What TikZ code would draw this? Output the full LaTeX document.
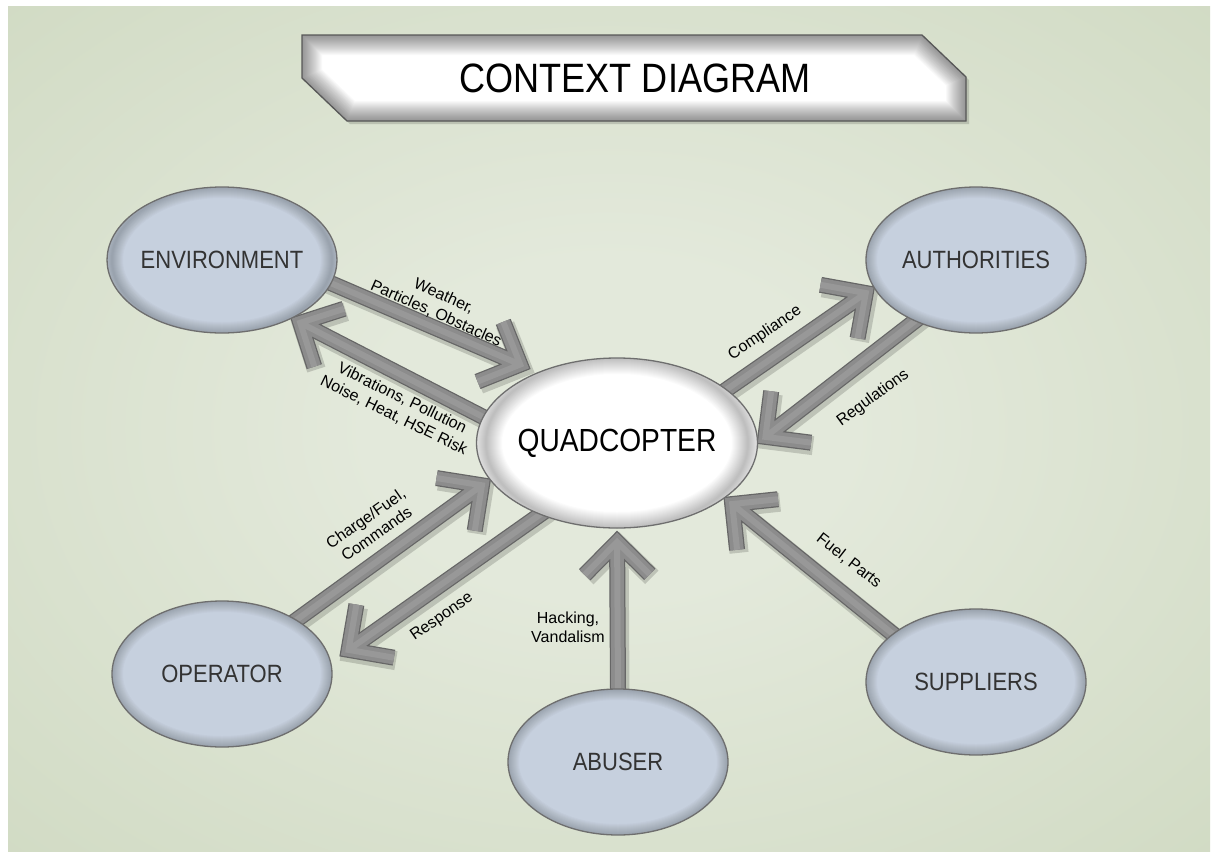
\documentclass[tikz,border=0pt]{standalone}
\usepackage{fontspec}
\setmainfont{Liberation Sans}
\newfontfamily\condfont{Liberation Sans}[FakeStretch=0.88]
\newfontfamily\titlefont{Liberation Sans}[FakeStretch=0.88]
\usetikzlibrary{shapes.geometric,calc}

\pgfdeclarelayer{backdrop}
\pgfdeclarelayer{flows}
\pgfsetlayers{backdrop,flows,main}

\definecolor{glowin}{HTML}{E3E9DB}
\definecolor{glowmid}{HTML}{CBD6BC}
\definecolor{glowout}{HTML}{ADBF98}
\definecolor{bubble}{HTML}{C6D0DE}
\definecolor{bubbleedge}{HTML}{6E6E6E}
\definecolor{barbody}{HTML}{8C8C8C}
\definecolor{baredge}{HTML}{666666}
\definecolor{barshine}{HTML}{989898}

\pgfdeclareradialshading{bgglow}{\pgfpoint{0bp}{0bp}}{color(0bp)=(glowin); color(10bp)=(glowin); color(45bp)=(glowmid); color(72bp)=(glowout)}

% thick grey flow bar with an open chevron head: #1 source, #2 target, #3 gap before target
\newcommand\flowarrow[3]{%
  \coordinate (fa-s) at ($(#1)!-8pt!(#2)$);
  \coordinate (fa-t) at ($(#2)!#3!(#1)$);
  \coordinate (fa-a) at ($(fa-t)!46pt!45:(fa-s)$);
  \coordinate (fa-b) at ($(fa-t)!46pt!-45:(fa-s)$);
  \draw[barshadow] (fa-s) -- (fa-t) (fa-a) -- (fa-t) -- (fa-b);
  \draw[baredgeline] (fa-s) -- (fa-t) (fa-a) -- (fa-t) -- (fa-b);
  \draw[barbodyline] (fa-s) -- (fa-t) (fa-a) -- (fa-t) -- (fa-b);
  \draw[barshineline] (fa-s) -- (fa-t) (fa-a) -- (fa-t) -- (fa-b);
}

\tikzset{
  extnode/.style={ellipse, minimum width=220pt, minimum height=146pt,
    inner sep=0pt, outer sep=0pt, fill=bubble, draw=bubbleedge, line width=1.3pt,
    font=\condfont\fontsize{25}{30}\selectfont, text=black!80,
    path picture={\foreach \w in {2,4,...,22}{
      \draw[line width=\w pt, black, opacity=0.02]
        (path picture bounding box.center) ellipse [x radius=110pt, y radius=73pt];}}},
  quadnode/.style={ellipse, minimum width=262pt, minimum height=170pt,
    inner sep=0pt, outer sep=0pt, fill=white, draw=bubbleedge, line width=1.3pt,
    font=\condfont\fontsize{32}{38}\selectfont, text=black,
    path picture={\foreach \w in {2,4,...,32}{
      \draw[line width=\w pt, black, opacity=0.016]
        (path picture bounding box.center) ellipse [x radius=131pt, y radius=85pt];}}},
  barshadow/.style={line width=19pt, black, opacity=0.16, line join=miter,
    transform canvas={shift={(2pt,-3pt)}}},
  baredgeline/.style={line width=16pt, baredge, line join=miter},
  barbodyline/.style={line width=13.5pt, barbody, line join=miter},
  barshineline/.style={line width=6pt, barshine, line join=miter},
  flowlabel/.style={font=\fontsize{16}{19}\selectfont, align=center, inner sep=0pt, text=black},
}

\begin{document}
\begin{tikzpicture}[x=1pt,y=-1pt]
\useasboundingbox (0,0) rectangle (1213,857);

\begin{pgfonlayer}{backdrop}
  \fill[white] (0,0) rectangle (1213,857);
  \shade[shading=bgglow] (8,6) rectangle (1210,851);
\end{pgfonlayer}

% title banner
\fill[black, opacity=0.15] (305,38) -- (925,38) -- (969,80) -- (969,124) -- (350,124) -- (305,81) -- cycle;
\fill[white] (302,35) -- (922,35) -- (966,77) -- (966,121) -- (347,121) -- (302,78) -- cycle;
\begin{scope}
  \clip (302,35) -- (922,35) -- (966,77) -- (966,121) -- (347,121) -- (302,78) -- cycle;
  \foreach \w in {2,4,...,40}{
    \draw[line width=\w pt, black, opacity=0.025, line join=miter]
      (302,35) -- (922,35) -- (966,77) -- (966,121) -- (347,121) -- (302,78) -- cycle;}
\end{scope}
\draw[bubbleedge!80!black, line width=1.3pt, line join=miter]
  (302,35) -- (922,35) -- (966,77) -- (966,121) -- (347,121) -- (302,78) -- cycle;
\node[font=\titlefont\fontsize{41}{48}\selectfont, inner sep=0pt] (title) at (635,78) {CONTEXT DIAGRAM};

% actors and the system
\node[extnode] (env)  at (222,260) {ENVIRONMENT};
\node[extnode] (auth) at (976,260) {AUTHORITIES};
\node[extnode] (oper) at (222,674) {OPERATOR};
\node[extnode] (supp) at (976,682) {SUPPLIERS};
\node[extnode] (abus) at (618,762) {ABUSER};
\node[quadnode] (quad) at (617,443) {QUADCOPTER};

% flows
\begin{pgfonlayer}{flows}
  \flowarrow{env.-12.6}{quad.138.1}{20pt}
  \flowarrow{quad.169.2}{env.-40.5}{10pt}
  \flowarrow{quad.26.6}{auth.195.5}{10pt}
  \flowarrow{auth.-135}{quad.-0.9}{10pt}
  \flowarrow{oper.36.3}{quad.196.6}{10pt}
  \flowarrow{quad.-137.8}{oper.6.9}{22pt}
  \flowarrow{abus.north}{quad.south}{14pt}
  \flowarrow{supp.150.4}{quad.-27.5}{10pt}
\end{pgfonlayer}

% flow labels
\node[flowlabel, rotate=-24] (lweather) at (440,305) {Weather,\\Particles, Obstacles};
\node[flowlabel, rotate=-26] (lvibr) at (398,407) {Vibrations, Pollution\\Noise, Heat, HSE Risk};
\node[flowlabel, rotate=34] (lcompl) at (765,333) {Compliance};
\node[flowlabel, rotate=36] (lregul) at (873,398) {Regulations};
\node[flowlabel, rotate=35] (lcharge) at (371,526) {Charge/Fuel,\\Commands};
\node[flowlabel, rotate=35] (lresp) at (442,617) {Response};
\node[flowlabel] (lhack) at (568,627) {Hacking,\\Vandalism};
\node[flowlabel, rotate=-38] (lfuel) at (849,561) {Fuel, Parts};
\end{tikzpicture}
\end{document}
